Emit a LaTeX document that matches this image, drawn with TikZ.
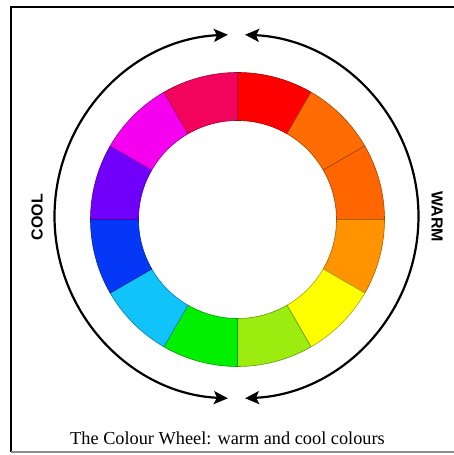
\documentclass[tikz,border=0pt]{standalone}
\usepackage{fontspec}
\setmainfont{Liberation Serif}
\setsansfont{Liberation Sans}
\usetikzlibrary{arrows.meta,calc}
\definecolor{cA}{RGB}{255,0,0}
\definecolor{cB}{RGB}{255,108,4}
\definecolor{cC}{RGB}{255,102,0}
\definecolor{cD}{RGB}{255,148,0}
\definecolor{cE}{RGB}{255,255,0}
\definecolor{cF}{RGB}{156,236,16}
\definecolor{cG}{RGB}{0,240,0}
\definecolor{cH}{RGB}{16,196,250}
\definecolor{cI}{RGB}{4,56,246}
\definecolor{cJ}{RGB}{112,0,250}
\definecolor{cK}{RGB}{246,0,240}
\definecolor{cL}{RGB}{242,4,92}
\tikzset{
  seg/.style={draw=#1!65!black, line width=0.6pt, fill=#1},
  bigarrow/.style={line width=2.2pt, {Stealth[length=14pt,width=13pt,inset=3pt]}-{Stealth[length=14pt,width=13pt,inset=3pt]}},
  sidelabel/.style={font=\sffamily\bfseries\fontsize{16}{16}\selectfont},
}
\begin{document}
\begin{tikzpicture}[x=1pt,y=1pt]
\useasboundingbox (0,0) rectangle (454,455);
\fill[white] (0,0) rectangle (454,455);
% frame
\draw[line width=2.4pt] (11,3) -- (11,448) -- (456,448);
\draw[line width=1.6pt, black!45] (11,3) -- (456,3);
% wheel
\coordinate (C) at (237.5,235.5);
\foreach \i/\c in {0/cA,1/cB,2/cC,3/cD,4/cE,5/cF,6/cG,7/cH,8/cI,9/cJ,10/cK,11/cL}{
  \pgfmathsetmacro{\aa}{90-30*\i}
  \pgfmathsetmacro{\ab}{60-30*\i}
  \draw[seg=\c] ([shift={(\aa:147)}]C) arc[start angle=\aa, end angle=\ab, radius=147]
     -- ([shift={(\ab:99)}]C) arc[start angle=\ab, end angle=\aa, radius=99] -- cycle;
}
% arrows
\coordinate (A) at (236.5,238.5);
\coordinate (tl) at ([shift={(92.7:182)}]A);
\coordinate (tr) at ([shift={(87.3:182)}]A);
\draw[bigarrow] (tl) arc[start angle=92.7, end angle=267.3, radius=182];
\draw[bigarrow] (tr) arc[start angle=87.3, end angle=-87.3, radius=182];
% labels
\node[sidelabel, rotate=90] (cool) at (37,238) {COOL};
\node[sidelabel, rotate=-90] (warm) at (437,238) {WARM};
\node[anchor=base, font=\fontsize{18.3}{18.3}\selectfont] (cap) at (227.5,10) {The Colour Wheel: warm and cool colours};
\end{tikzpicture}
\end{document}
